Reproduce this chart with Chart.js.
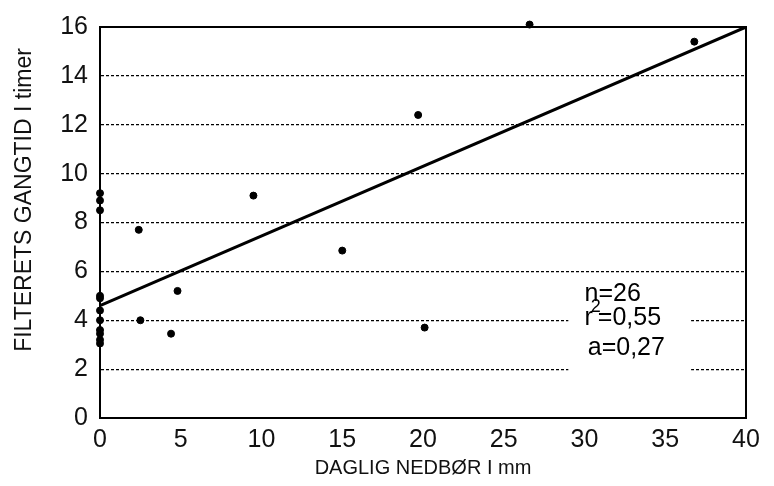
<!DOCTYPE html>
<html>
<head>
<meta charset="utf-8">
<script src="https://cdn.jsdelivr.net/npm/chart.js@4.4.1/dist/chart.umd.min.js"></script>
<style>
  html, body { margin: 0; padding: 0; background: #fff; }
  #wrap { width: 774px; height: 486px; }
</style>
</head>
<body>
<div id="wrap"><canvas id="chart"></canvas></div>
<script>
// daily rainfall (mm) vs filter running time (hours)
const rainMm = [0, 0, 0, 0, 0, 0, 0, 0, 0, 0, 0,
  2.4, 2.5, 4.4, 4.8, 9.5, 15.0, 19.7, 20.1, 26.6, 36.8];
const runHours = [9.2, 8.9, 8.5, 5.0, 4.9, 4.4, 4.0, 3.6, 3.45, 3.2, 3.05,
  7.7, 4.0, 3.45, 5.2, 9.1, 6.85, 12.4, 3.7, 16.1, 15.4];
const fitX = [0, 40];
const fitY = [4.6, 16.0];
const xTickValues = [0, 5, 10, 15, 20, 25, 30, 35, 40];
const yTickValues = [0, 2, 4, 6, 8, 10, 12, 14, 16];
const statN = 'n=26';
const statR2 = ['r', '2', '=0,55'];
const statA = 'a=0,27';
const xTitle = 'DAGLIG NEDBØR I mm';
const yTitle = 'FILTERETS GANGTID I timer';

const FONT = "'Liberation Sans', Arial, sans-serif";

const points = rainMm.map((x, i) => ({ x, y: runHours[i] }));
const fitLine = fitX.map((x, i) => ({ x, y: fitY[i] }));

const decorations = {
  id: 'decorations',
  beforeDatasetsDraw(chart) {
    const { ctx, scales: { x, y } } = chart;
    ctx.save();
    // white patch behind the statistics, breaking the grid lines
    const l = x.getPixelForValue(29.0), r = x.getPixelForValue(36.6);
    const t = y.getPixelForValue(5.7), b = y.getPixelForValue(1.6);
    ctx.fillStyle = '#fff';
    ctx.fillRect(l, t, r - l, b - t);

    ctx.fillStyle = '#000';
    ctx.textBaseline = 'middle';
    ctx.textAlign = 'left';
    ctx.font = '25px ' + FONT;
    const tx = x.getPixelForValue(30.0);
    ctx.fillText(statN, tx, y.getPixelForValue(5.08));
    const ry = y.getPixelForValue(4.1);
    ctx.fillText(statR2[0], tx, ry);
    const rw = ctx.measureText(statR2[0]).width;
    ctx.font = '18px ' + FONT;
    ctx.fillText(statR2[1], tx + rw - 2, ry - 11);
    ctx.font = '25px ' + FONT;
    ctx.fillText(statR2[2], tx + rw + 5, ry);
    ctx.fillText(statA, x.getPixelForValue(30.2), y.getPixelForValue(2.85));
    ctx.restore();
  },
  afterDraw(chart) {
    const { ctx, chartArea: a } = chart;
    ctx.save();
    ctx.strokeStyle = '#000';
    ctx.lineWidth = 2;
    ctx.strokeRect(a.left, a.top, a.right - a.left, a.bottom - a.top);

    ctx.fillStyle = '#111';
    ctx.textAlign = 'center';
    ctx.textBaseline = 'middle';
    ctx.font = '20px ' + FONT;
    ctx.fillText(xTitle, (a.left + a.right) / 2, 468);
    ctx.translate(25, 200);
    ctx.rotate(-Math.PI / 2);
    ctx.font = '23px ' + FONT;
    ctx.fillText(yTitle, 0, 0);
    ctx.restore();
  }
};

new Chart(document.getElementById('chart'), {
  type: 'scatter',
  data: {
    datasets: [
      {
        label: 'fit',
        type: 'line',
        data: fitLine,
        borderColor: '#000',
        borderWidth: 3,
        pointRadius: 0,
        fill: false,
        tension: 0
      },
      {
        label: 'obs',
        data: points,
        clip: false,
        backgroundColor: '#000',
        borderColor: '#000',
        pointRadius: 3.5,
        pointHoverRadius: 3.5
      }
    ]
  },
  options: {
    responsive: true,
    maintainAspectRatio: false,
    animation: false,
    layout: { padding: { left: 0, top: 22, right: 28, bottom: 0 } },
    plugins: { legend: { display: false }, tooltip: { enabled: false } },
    scales: {
      x: {
        type: 'linear',
        min: 0, max: 40,
        afterBuildTicks: s => { s.ticks = xTickValues.map(v => ({ value: v })); },
        afterFit: s => { s.height = 68; },
        grid: { display: false, drawTicks: false },
        border: { display: true, color: '#000', width: 2 },
        ticks: { color: '#111', font: { family: FONT, size: 25 }, padding: 7, maxRotation: 0 }
      },
      y: {
        type: 'linear',
        min: 0, max: 16,
        afterBuildTicks: s => { s.ticks = yTickValues.map(v => ({ value: v })); },
        afterFit: s => { s.width = 100; },
        grid: {
          drawTicks: false,
          lineWidth: 1.2,
          color: c => (c.tick && (c.tick.value === 0 || c.tick.value === 16)) ? 'rgba(0,0,0,0)' : '#000'
        },
        border: { display: true, color: '#000', width: 2, dash: [3, 2] },
        ticks: { color: '#111', font: { family: FONT, size: 25 }, padding: 12 }
      }
    }
  },
  plugins: [decorations]
});
</script>
</body>
</html>
